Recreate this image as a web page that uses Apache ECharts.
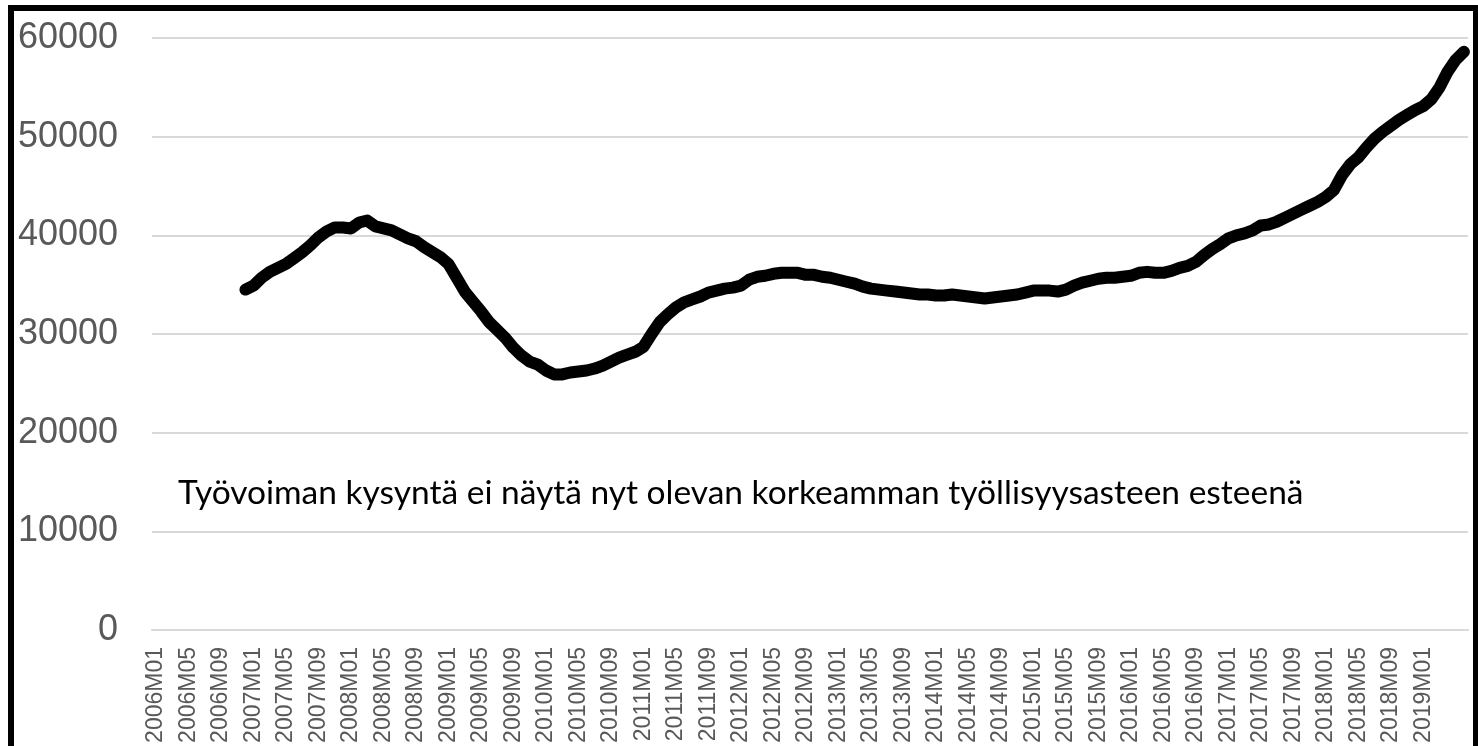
<!DOCTYPE html>
<html>
<head>
<meta charset="utf-8">
<script src="https://cdn.jsdelivr.net/npm/echarts@6/dist/echarts.min.js"></script>
<style>
  html, body { margin: 0; padding: 0; background: #fff; }
  #chart { width: 1478px; height: 746px; }
</style>
</head>
<body>
<div id="chart"></div>
<script>
// kuukaudet 2006M01 - 2019M06
const years = [2006, 2007, 2008, 2009, 2010, 2011, 2012, 2013, 2014, 2015, 2016, 2017, 2018, 2019];
const months = ['01', '02', '03', '04', '05', '06', '07', '08', '09', '10', '11', '12'];
const lastMonth = '2019M06';
const lastLabel = '2019M01';

const categories = [];
years.forEach(y => {
  months.forEach(m => {
    if (categories[categories.length - 1] !== lastMonth) categories.push(y + 'M' + m);
  });
});

// avoimet työpaikat (liukuva), sarja alkaa 2006M12
const leadingEmpty = 11;
const vacancies = [
  34500, 34900, 35700, 36300, 36700, 37100, 37700, 38300, 39000, 39800,
  40400, 40800, 40800, 40700, 41300, 41500, 40900, 40700, 40500, 40100,
  39700, 39400, 38800, 38300, 37800, 37100, 35700, 34300, 33300, 32300,
  31200, 30400, 29600, 28600, 27800, 27200, 26900, 26300, 25900, 25900,
  26100, 26200, 26300, 26500, 26800, 27200, 27600, 27900, 28200, 28700,
  30000, 31200, 32000, 32700, 33200, 33500, 33800, 34200, 34400, 34600,
  34700, 34900, 35500, 35800, 35900, 36100, 36200, 36200, 36200, 36000,
  36000, 35800, 35700, 35500, 35300, 35100, 34800, 34600, 34500, 34400,
  34300, 34200, 34100, 34000, 34000, 33900, 33900, 34000, 33900, 33800,
  33700, 33600, 33700, 33800, 33900, 34000, 34200, 34400, 34400, 34400,
  34300, 34500, 34900, 35200, 35400, 35600, 35700, 35700, 35800, 35900,
  36200, 36300, 36200, 36200, 36400, 36700, 36900, 37300, 38000, 38600,
  39100, 39700, 40000, 40200, 40500, 41000, 41100, 41400, 41800, 42200,
  42600, 43000, 43400, 43900, 44600, 46100, 47200, 47900, 48900, 49800,
  50500, 51100, 51700, 52200, 52700, 53100, 53800, 55000, 56600, 57800,
  58600
];
const seriesData = new Array(leadingEmpty).fill(null).concat(vacancies);

const yMin = 0, yMax = 60000, yStep = 10000;
const note = 'Työvoiman kysyntä ei näytä nyt olevan korkeamman työllisyysasteen esteenä';

const lastLabelIdx = categories.indexOf(lastLabel);

const chart = echarts.init(document.getElementById('chart'));
chart.setOption({
  animation: false,
  backgroundColor: '#fff',
  grid: { left: 152, right: 10, top: 38, bottom: 116 },
  xAxis: {
    type: 'category',
    data: categories,
    boundaryGap: true,
    axisLine: { lineStyle: { color: '#d9d9d9', width: 2 } },
    axisTick: { show: false },
    axisLabel: {
      interval: (idx) => idx % 4 === 0 && idx <= lastLabelIdx,
      rotate: 90,
      margin: 17,
      color: '#595959',
      fontSize: 23,
      fontFamily: 'Liberation Sans'
    }
  },
  yAxis: {
    type: 'value',
    min: yMin,
    max: yMax,
    interval: yStep,
    axisLine: { show: false },
    axisTick: { show: false },
    axisLabel: {
      margin: 34,
      color: '#595959',
      fontSize: 36,
      fontFamily: 'Liberation Sans',
      formatter: (v) => String(v)
    },
    splitLine: { lineStyle: { color: '#d9d9d9', width: 2 } }
  },
  series: [{
    type: 'line',
    data: seriesData,
    showSymbol: false,
    connectNulls: false,
    lineStyle: { color: '#000', width: 12, cap: 'round', join: 'round' }
  }],
  graphic: [
    {
      type: 'rect',
      shape: { x: 11, y: 8, width: 1465, height: 800 },
      style: { fill: 'none', stroke: '#000', lineWidth: 6 },
      z: 100
    },
    {
      type: 'text',
      left: 178,
      top: 476,
      style: {
        text: note,
        fill: '#000',
        font: '33.5px Lato'
      },
      z: 100
    }
  ]
});
</script>
</body>
</html>
